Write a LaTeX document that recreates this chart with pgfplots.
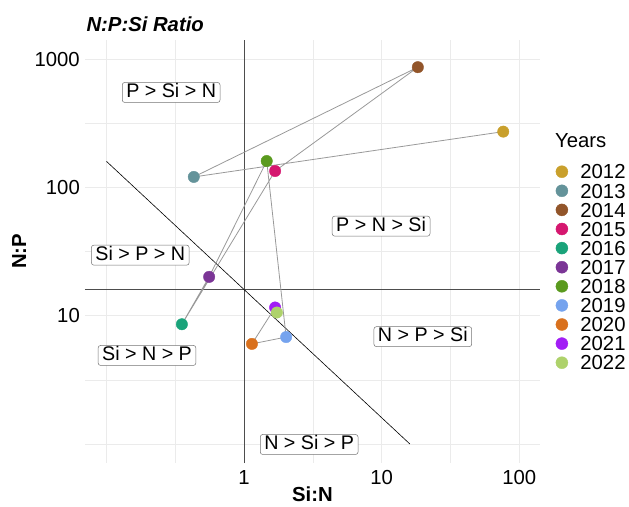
\documentclass[border=0pt]{standalone}
\usepackage{pgfplots}
\pgfplotsset{compat=1.18}
\usepackage{fontspec}
\setmainfont{Liberation Sans}
\definecolor{c2012}{HTML}{C9A02C}
\definecolor{c2013}{HTML}{64939A}
\definecolor{c2014}{HTML}{92552A}
\definecolor{c2015}{HTML}{D5176F}
\definecolor{c2016}{HTML}{1AA37A}
\definecolor{c2017}{HTML}{7B3596}
\definecolor{c2018}{HTML}{5A9A1E}
\definecolor{c2019}{HTML}{75A3EE}
\definecolor{c2020}{HTML}{D9711E}
\definecolor{c2021}{HTML}{A21EF5}
\definecolor{c2022}{HTML}{AED26B}
\definecolor{gridc}{HTML}{EBEBEB}
\definecolor{pathc}{HTML}{999999}
\definecolor{refc}{HTML}{4D4D4D}
\newcommand{\fs}{\fontsize{20.3}{24}\selectfont}
\newcommand{\fl}{\fontsize{19.7}{23}\selectfont}
\tikzset{labbox/.style={draw=black!55, line width=0.5pt, fill=white, rounded corners=2.5pt,
    inner xsep=4pt, inner ysep=0.5pt, text height=14.5pt, text depth=4.5pt, font=\fl}}
\begin{document}
\begin{tikzpicture}[x=1pt,y=1pt]
\begin{axis}[
  at={(85pt,-463pt)}, anchor=south west,
  scale only axis, width=455pt, height=423pt,
  xmode=log, ymode=log,
  xmin=0.0698, xmax=141.3, ymin=0.71, ymax=1416,
  xtick={1,10,100}, xticklabels={1,10,100},
  ytick={10,100,1000}, yticklabels={10,100,1000},
  minor xtick={0.1,0.3162,3.162,31.62},
  minor ytick={1,3.162,31.62,316.2},
  grid=both,
  major grid style={draw=gridc, line width=0.6pt},
  minor grid style={draw=gridc, line width=0.6pt},
  axis line style={draw=none},
  major tick length=0pt, minor tick length=0pt,
  tick style={draw=none},
  ticklabel style={font=\fs},
  xticklabel style={inner sep=0pt, anchor=north, yshift=-7pt},
  yticklabel style={inner sep=0pt, anchor=east, xshift=-5pt},
  xlabel={\textbf{Si:N}}, ylabel={\textbf{N:P}},
  xlabel style={font=\fs, inner sep=0pt, at={(axis description cs:0.5,-0.0910)}, anchor=base},
  ylabel style={font=\fs, inner sep=0pt, at={(axis description cs:-0.1446,0.5)}, anchor=center},
  title={\textbf{\textit{N:P:Si Ratio}}},
  every axis title/.style={font=\fs, at={(axis description cs:0.003,1.0201)}, anchor=base west, inner sep=0pt},
  clip=false,
  legend style={at={(axis description cs:1.0345,0.7059)}, anchor=north west,
    draw=none, fill=none, inner sep=0pt, outer sep=0pt, row sep=0pt, font=\fs,
    nodes={inner sep=0pt, outer sep=0pt, text height=14.5pt, text depth=4.6pt},
    /tikz/every odd column/.append style={column sep=12.3pt}},
  legend cell align=left,
  legend image code/.code={\fill[#1] (6pt,2.25pt) circle (6pt);},
]
% reference lines
\addplot[refc, line width=1pt, forget plot] coordinates {(1,0.71) (1,1416)};
\addplot[refc, line width=1pt, forget plot] coordinates {(0.0698,16) (141.3,16)};
\addplot[black, line width=0.6pt, forget plot] coordinates {(0.1,160) (16,1)};
% points
\addplot[only marks, mark=*, mark size=5.7pt, color=c2012] coordinates {(76.4,273)};
\addlegendentry{2012}
\addplot[only marks, mark=*, mark size=5.7pt, color=c2013] coordinates {(0.431,121)};
\addlegendentry{2013}
\addplot[only marks, mark=*, mark size=5.7pt, color=c2014] coordinates {(18.3,869)};
\addlegendentry{2014}
\addplot[only marks, mark=*, mark size=5.7pt, color=c2015] coordinates {(1.68,134.6)};
\addlegendentry{2015}
\addplot[only marks, mark=*, mark size=5.7pt, color=c2016] coordinates {(0.353,8.58)};
\addlegendentry{2016}
\addplot[only marks, mark=*, mark size=5.7pt, color=c2017] coordinates {(0.557,20.1)};
\addlegendentry{2017}
\addplot[only marks, mark=*, mark size=5.7pt, color=c2018] coordinates {(1.46,161)};
\addlegendentry{2018}
\addplot[only marks, mark=*, mark size=5.7pt, color=c2019] coordinates {(2.02,6.82)};
\addlegendentry{2019}
\addplot[only marks, mark=*, mark size=5.7pt, color=c2020] coordinates {(1.14,6.03)};
\addlegendentry{2020}
\addplot[only marks, mark=*, mark size=5.7pt, color=c2021] coordinates {(1.68,11.6)};
\addlegendentry{2021}
\addplot[only marks, mark=*, mark size=5.7pt, color=c2022] coordinates {(1.73,10.6)};
\addlegendentry{2022}
% path in year order
\addplot[pathc, line width=0.8pt, forget plot] coordinates {(76.4,273) (0.431,121) (18.3,869) (1.68,134.6) (0.353,8.58) (0.557,20.1) (1.46,161) (2.02,6.82) (1.14,6.03) (1.68,11.6) (1.73,10.6)};
% region labels
\node[labbox] at (axis cs:0.295,552) {P > Si > N};
\node[labbox] at (axis cs:0.176,29.7) {Si > P > N};
\node[labbox] at (axis cs:9.9,50) {P > N > Si};
\node[labbox] at (axis cs:0.197,4.9) {Si > N > P};
\node[labbox] at (axis cs:19.9,6.87) {N > P > Si};
\node[labbox] at (axis cs:2.97,0.99) {N > Si > P};
\end{axis}
\node[anchor=base west, font=\fs, inner sep=0pt] at (555,-147.7) {Years};
\pgfresetboundingbox
\useasboundingbox (0,0) rectangle (629,-506);
\end{tikzpicture}
\end{document}
